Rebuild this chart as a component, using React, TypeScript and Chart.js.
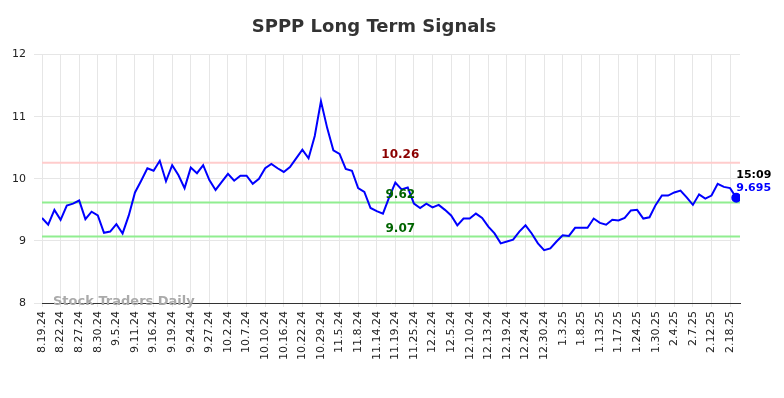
import React, { useEffect, useRef } from "react";
import { Chart, registerables } from "chart.js";

Chart.register(...registerables);

const tickLabels = [
  "8.19.24", "8.22.24", "8.27.24", "8.30.24", "9.5.24", "9.11.24", "9.16.24", "9.19.24",
  "9.24.24", "9.27.24", "10.2.24", "10.7.24", "10.10.24", "10.16.24", "10.22.24", "10.29.24",
  "11.5.24", "11.8.24", "11.14.24", "11.19.24", "11.25.24", "12.2.24", "12.5.24", "12.10.24",
  "12.13.24", "12.19.24", "12.24.24", "12.30.24", "1.3.25", "1.8.25", "1.13.25", "1.17.25",
  "1.24.25", "1.30.25", "2.4.25", "2.7.25", "2.12.25", "2.18.25",
];

const prices = [
  9.37, 9.26, 9.5, 9.34, 9.57, 9.6, 9.65, 9.35, 9.47, 9.41,
  9.13, 9.15, 9.27, 9.12, 9.41, 9.78, 9.97, 10.17, 10.13, 10.29,
  9.96, 10.22, 10.06, 9.85, 10.18, 10.09, 10.22, 9.98, 9.82, 9.95,
  10.08, 9.97, 10.05, 10.05, 9.92, 10.0, 10.17, 10.24, 10.17, 10.11,
  10.19, 10.33, 10.47, 10.33, 10.69, 11.25, 10.82, 10.46, 10.4, 10.16,
  10.13, 9.85, 9.79, 9.53, 9.48, 9.44, 9.7, 9.94, 9.83, 9.86,
  9.6, 9.53, 9.6, 9.54, 9.58, 9.5, 9.41, 9.25, 9.36, 9.36,
  9.44, 9.37, 9.23, 9.12, 8.96, 8.99, 9.02, 9.15, 9.25, 9.12,
  8.96, 8.85, 8.88, 8.99, 9.09, 9.08, 9.21, 9.21, 9.21, 9.36,
  9.29, 9.26, 9.34, 9.33, 9.37, 9.49, 9.5, 9.36, 9.38, 9.58,
  9.73, 9.73, 9.78, 9.81, 9.7, 9.58, 9.75, 9.68, 9.73, 9.92,
  9.87, 9.85, 9.695,
];

const resistance = 10.26;
const supportHigh = 9.62;
const supportLow = 9.07;
const lastTime = "15:09";
const lastValueLabel = "9.695";
const yTicks = [8, 9, 10, 11, 12];
const labelStep = 3;

const FONT = "'DejaVu Sans', sans-serif";

export default function App() {
  const ref = useRef<HTMLCanvasElement | null>(null);

  useEffect(() => {
    if (!ref.current) return;
    const n = prices.length;
    const xMax = n - 1 + 0.6;
    const lineData = (v: number) => [
      { x: 0, y: v },
      { x: xMax, y: v },
    ];

    const overlay = {
      id: "overlay",
      afterDatasetsDraw(chart: any) {
        const ctx = chart.ctx;
        const xs = chart.scales.x;
        const ys = chart.scales.y;
        ctx.save();
        const midX = xs.getPixelForValue(57.8);
        ctx.font = `bold 12px ${FONT}`;
        ctx.textAlign = "center";
        ctx.textBaseline = "bottom";
        ctx.fillStyle = "#8b0000";
        ctx.fillText(resistance.toFixed(2), midX, ys.getPixelForValue(resistance) - 2);
        ctx.fillStyle = "#006400";
        ctx.fillText(supportHigh.toFixed(2), midX, ys.getPixelForValue(supportHigh) - 2);
        ctx.fillText(supportLow.toFixed(2), midX, ys.getPixelForValue(supportLow) - 2);
        const lx = xs.getPixelForValue(n - 1);
        const ly = ys.getPixelForValue(prices[n - 1]);
        ctx.textAlign = "left";
        ctx.textBaseline = "middle";
        ctx.font = `bold 11px ${FONT}`;
        ctx.fillStyle = "#000";
        ctx.fillText(lastTime, lx, ly - 23);
        ctx.fillStyle = "#0000ff";
        ctx.fillText(lastValueLabel, lx, ly - 10);
        ctx.font = `bold 13px ${FONT}`;
        ctx.fillStyle = "#aaaaaa";
        ctx.textAlign = "left";
        ctx.textBaseline = "middle";
        ctx.fillText("Stock Traders Daily", xs.left + 11, ys.bottom - 1);
        ctx.restore();
      },
    };

    const chart = new Chart(ref.current, {
      type: "line",
      data: {
        datasets: [
          {
            data: prices.map((y, i) => ({ x: i, y })),
            borderColor: "#0000ff",
            borderWidth: 2,
            pointRadius: prices.map((_, i) => (i === n - 1 ? 4 : 0)),
            pointBackgroundColor: "#0000ff",
            pointBorderColor: "#0000ff",
            tension: 0,
            order: 0,
          },
          {
            data: lineData(resistance),
            borderColor: "#ffcccc",
            borderWidth: 2,
            pointRadius: 0,
            order: 1,
          },
          {
            data: lineData(supportHigh),
            borderColor: "#90ee90",
            borderWidth: 2,
            pointRadius: 0,
            order: 1,
          },
          {
            data: lineData(supportLow),
            borderColor: "#90ee90",
            borderWidth: 2,
            pointRadius: 0,
            order: 1,
          },
        ],
      },
      options: {
        animation: false,
        responsive: true,
        maintainAspectRatio: false,
        layout: { padding: { left: 0, right: 36, top: 0, bottom: 0 } },
        plugins: {
          legend: { display: false },
          tooltip: { enabled: false },
          title: {
            display: true,
            text: "SPPP Long Term Signals",
            color: "#333333",
            font: { family: FONT, size: 18, weight: "bold" },
            padding: { top: 9, bottom: 16 },
          },
        },
        scales: {
          x: {
            type: "linear",
            min: 0,
            max: xMax,
            afterBuildTicks: (scale: any) => {
              scale.ticks = tickLabels.map((_, i) => ({ value: i * labelStep }));
            },
            afterFit: (scale: any) => {
              scale.height = 87;
            },
            ticks: {
              autoSkip: false,
              minRotation: 90,
              maxRotation: 90,
              color: "#222",
              font: { family: FONT, size: 11 },
              padding: 4,
              callback: (v: any) => tickLabels[Math.round(Number(v) / labelStep)] ?? "",
            },
            grid: { color: "#e6e6e6", tickLength: 4 },
            border: { color: "#333333", width: 1 },
          },
          y: {
            min: 8,
            max: 12,
            afterBuildTicks: (scale: any) => {
              scale.ticks = yTicks.map((v) => ({ value: v }));
            },
            afterFit: (scale: any) => {
              scale.width = 34;
            },
            ticks: {
              color: "#222",
              font: { family: FONT, size: 11 },
              padding: 8,
            },
            grid: { color: "#e6e6e6", tickLength: 8 },
            border: { display: false },
          },
        },
      },
      plugins: [overlay],
    });
    return () => chart.destroy();
  }, []);

  return (
    <div style={{ width: 768, height: 382, position: "relative" }}>
      <canvas ref={ref} />
    </div>
  );
}
